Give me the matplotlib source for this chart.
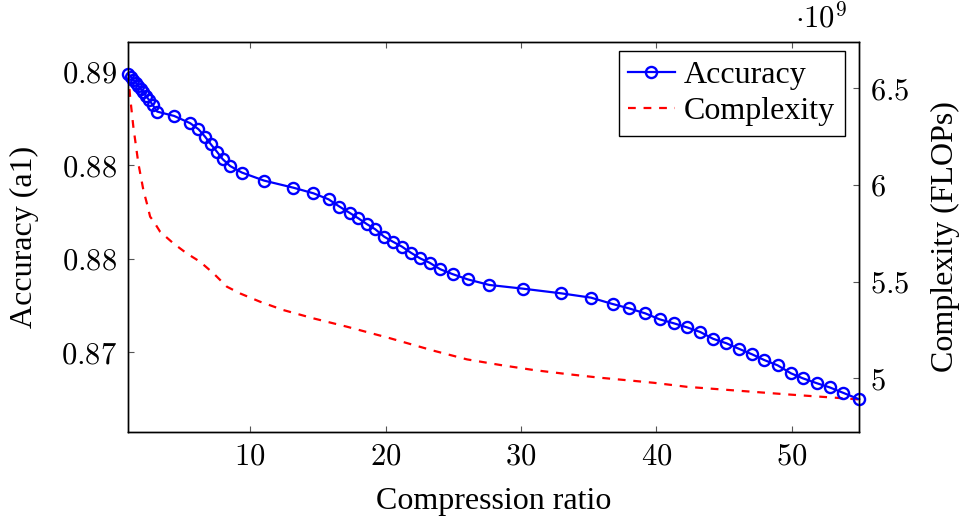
import numpy as np
import matplotlib
matplotlib.use('Agg')
import matplotlib.pyplot as plt

plt.rcParams['font.family'] = ['Liberation Serif', 'DejaVu Serif']
plt.rcParams['mathtext.fontset'] = 'cm'

# accuracy vs compression ratio (blue, left axis)
ratio_acc = [1.0, 1.19, 1.37, 1.56, 1.74, 1.93, 2.12, 2.31, 2.54, 2.80,
             3.13, 4.38, 5.57, 6.18, 6.67, 7.10, 7.54, 7.98, 8.52, 9.39,
             11.03, 13.20, 14.68, 15.79, 16.60, 17.34, 18.00, 18.61, 19.24, 19.90,
             20.55, 21.21, 21.88, 22.56, 23.25, 24.04, 24.95, 26.06, 27.66, 30.16,
             32.99, 35.18, 36.78, 37.97, 39.19, 40.25, 41.29, 42.28, 43.26, 44.20,
             45.18, 46.09, 47.08, 47.99, 48.97, 49.96, 50.85, 51.88, 52.82, 53.81, 55.0]
accuracy = [0.88486, 0.88472, 0.88456, 0.88440, 0.88423, 0.88407, 0.88391, 0.88369, 0.88348, 0.88322,
            0.88286, 0.88263, 0.88224, 0.88192, 0.88152, 0.88111, 0.88072, 0.88031, 0.87995, 0.87960,
            0.87917, 0.87879, 0.87849, 0.87817, 0.87778, 0.87745, 0.87715, 0.87685, 0.87657, 0.87617,
            0.87590, 0.87564, 0.87531, 0.87501, 0.87478, 0.87443, 0.87417, 0.87389, 0.87359, 0.87339,
            0.87314, 0.87291, 0.87257, 0.87234, 0.87207, 0.87175, 0.87154, 0.87132, 0.87107, 0.87071,
            0.87047, 0.87018, 0.86988, 0.86957, 0.86929, 0.86886, 0.86859, 0.86833, 0.86811, 0.86782, 0.86747]

# complexity (FLOPs) vs compression ratio (red dashed, right axis)
ratio_cplx = [1.0, 1.13, 1.37, 1.74, 2.11, 2.37, 2.61, 2.85, 3.35, 4.33,
              5.32, 6.30, 7.29, 8.28, 9.26, 10.74, 12.46, 14.68, 17.15, 20.35,
              23.55, 26.02, 28.48, 30.94, 33.41, 35.87, 38.33, 39.81, 42.28, 44.74,
              47.20, 49.67, 52.13, 55.0]
complexity = [6.576e9, 6.457e9, 6.301e9, 6.112e9, 5.974e9, 5.905e9, 5.836e9, 5.814e9, 5.758e9, 5.698e9,
              5.646e9, 5.603e9, 5.543e9, 5.474e9, 5.439e9, 5.396e9, 5.353e9, 5.310e9, 5.267e9, 5.207e9,
              5.143e9, 5.098e9, 5.069e9, 5.043e9, 5.022e9, 5.003e9, 4.987e9, 4.977e9, 4.956e9, 4.943e9,
              4.930e9, 4.917e9, 4.905e9, 4.891e9]

xticks = [10, 20, 30, 40, 50]
acc_ticks = [0.870, 0.875, 0.880, 0.885]
acc_labels = ['0.87', '0.88', '0.88', '0.89']
cplx_ticks = [5.0e9, 5.5e9, 6.0e9, 6.5e9]
cplx_labels = ['5', '5.5', '6', '6.5']

fs = 22   # tick labels
fl = 23   # axis labels / legend

fig = plt.figure(figsize=(9.62, 5.18), dpi=100)
ax = fig.add_axes([0.1334, 0.1666, 0.7598, 0.7529])
ax2 = ax.twinx()
# keep the blue markers above the red dashed curve
ax.set_zorder(ax2.get_zorder() + 1)
ax.patch.set_visible(False)

l1, = ax.plot(ratio_acc, accuracy, color='#0000ff', lw=1.6, marker='o', ms=8,
              mfc='none', mec='#0000ff', mew=1.7, label='Accuracy', clip_on=False)
l2, = ax2.plot(ratio_cplx, complexity, color='#ff0000', lw=1.6, ls=(0, (3.5, 3.5)),
               label='Complexity')

ax.set_xlim(1, 55)
ax.set_ylim(0.86574, 0.8866)
ax2.set_ylim(4.724e9, 6.741e9)

ax.set_xticks(xticks)
ax.set_xticklabels(['$%d$' % t for t in xticks])
ax.set_yticks(acc_ticks)
ax.set_yticklabels(['$%s$' % s for s in acc_labels])
ax2.set_yticks(cplx_ticks)
ax2.set_yticklabels(['$%s$' % s for s in cplx_labels])

ax.tick_params(axis='x', direction='in', length=4, width=0.8, color='#555555',
               labelsize=fs, pad=8, top=True)
ax.tick_params(axis='y', direction='in', length=4, width=0.8, color='#555555',
               labelsize=fs, pad=8.4, right=False)
ax2.tick_params(axis='y', direction='in', length=4, width=0.8, color='#555555',
                labelsize=fs, pad=7.7)

for a in (ax, ax2):
    for s in a.spines.values():
        s.set_linewidth(1.0)

ax.set_xlabel('Compression ratio', fontsize=fl)
ax.xaxis.set_label_coords(0.5, -0.142)
ax.set_ylabel('Accuracy (a1)', fontsize=fl)
ax.yaxis.set_label_coords(-0.122, 0.5)
ax2.set_ylabel('Complexity (FLOPs)', fontsize=fl)
ax2.yaxis.set_label_coords(1.098, 0.5)

ax2.text(0.984, 1.02, r'$\cdot 10^9$', transform=ax.transAxes, fontsize=fs,
         ha='right', va='bottom')

leg = ax.legend(handles=[l1, l2], loc='upper right', bbox_to_anchor=(0.9804, 0.976),
                fontsize=fl, fancybox=False, framealpha=1, edgecolor='black',
                borderaxespad=0, borderpad=0.3, handlelength=1.45, handletextpad=0.3,
                labelspacing=0.22, numpoints=1)
leg.get_frame().set_linewidth(1.0)

plt.savefig('out.png', dpi=100)
